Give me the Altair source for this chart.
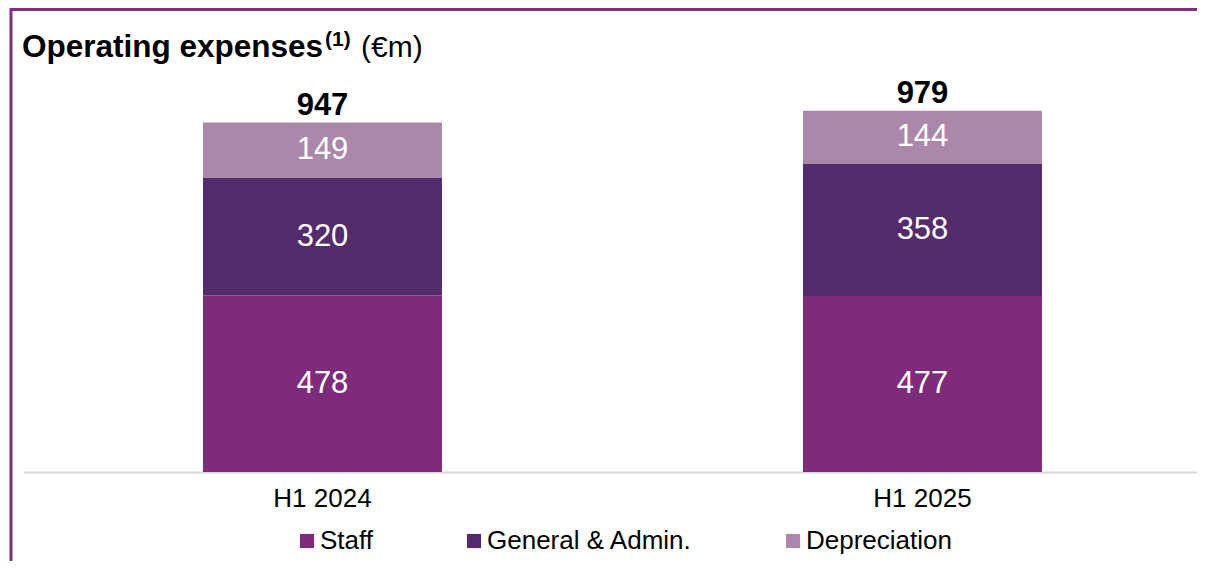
import altair as alt
import pandas as pd

# ---- data ----
periods = ["H1 2024", "H1 2025"]
categories = ["Staff", "General & Admin.", "Depreciation"]
staff = [478, 477]
gen_admin = [320, 358]
depreciation = [149, 144]
colors = ["#7F2B7B", "#542C6C", "#AB88AA"]

title_main = "Operating expenses"
title_sup = "(1)"
title_unit = "(€m)"

rows = []
for i, p in enumerate(periods):
    for j, (c, vals) in enumerate(zip(categories, [staff, gen_admin, depreciation])):
        rows.append({"period": p, "category": c, "value": vals[i], "order": j})
df = pd.DataFrame(rows)

FONT = "Liberation Sans"
FRAME = "#80307D"

x_enc = alt.X(
    "period:N", sort=periods, title=None,
    scale=alt.Scale(paddingInner=0.6017, paddingOuter=0.2792, align=0.5373),
    axis=alt.Axis(labelAngle=0, labelFont=FONT, labelFontSize=26, labelColor="#000000",
                  ticks=False, domainColor="#D9D9D9", domainWidth=2, labelPadding=13,
                  grid=False),
)
y_scale = alt.Scale(domain=[0, 1000])

stacked = alt.Chart(df).transform_stack(
    stack="value", groupby=["period"],
    sort=[alt.SortField("order", order="ascending")], as_=["v0", "v1"],
).transform_calculate(mid="(datum.v0 + datum.v1) / 2")

bars = stacked.mark_bar(strokeWidth=0).encode(
    x=x_enc,
    y=alt.Y("v0:Q", scale=y_scale, axis=None),
    y2="v1:Q",
    color=alt.Color(
        "category:N",
        scale=alt.Scale(domain=categories, range=colors),
        legend=alt.Legend(
            title=None, orient="none", direction="horizontal",
            legendX=271, legendY=425, padding=0,
            symbolType="square", symbolSize=200, symbolStrokeWidth=0, symbolOpacity=1,
            labelFont=FONT, labelFontSize=26, labelColor="#000000",
            labelOffset=0, columnPadding=87, labelLimit=400,
        ),
    ),
)

seg_labels = stacked.mark_text(
    color="white", font=FONT, fontSize=31, baseline="middle", align="center"
).encode(
    x=alt.X("period:N", sort=periods),
    y=alt.Y("mid:Q", scale=y_scale),
    text=alt.Text("value:Q"),
)

totals = alt.Chart(df).transform_aggregate(
    total="sum(value)", groupby=["period"]
).mark_text(
    color="black", font=FONT, fontSize=31, fontWeight="bold",
    baseline="alphabetic", align="center", dy=-8,
).encode(
    x=alt.X("period:N", sort=periods),
    y=alt.Y("total:Q", scale=y_scale),
    text=alt.Text("total:Q"),
)

one = pd.DataFrame({"k": [0]})
t1 = alt.Chart(one).mark_text(
    text=title_main, font=FONT, fontSize=31.5, fontWeight="bold", color="black",
    align="left", baseline="alphabetic",
).encode(x=alt.value(-1), y=alt.value(-46))
t2 = alt.Chart(one).mark_text(
    text=title_sup, font=FONT, fontSize=21, fontWeight="bold", color="black",
    align="left", baseline="alphabetic",
).encode(x=alt.value(302), y=alt.value(-57))
t3 = alt.Chart(one).mark_text(
    text=title_unit, font=FONT, fontSize=30, color="black",
    align="left", baseline="alphabetic",
).encode(x=alt.value(338), y=alt.value(-46))

frame_top = alt.Chart(one).mark_rule(color=FRAME, strokeWidth=3).encode(
    x=alt.value(-13), x2=alt.value(1174), y=alt.value(-93.5), y2=alt.value(-93.5)
)
frame_left = alt.Chart(one).mark_rule(color=FRAME, strokeWidth=3).encode(
    x=alt.value(-12), x2=alt.value(-12), y=alt.value(-95), y2=alt.value(460)
)

chart = alt.layer(
    frame_top, frame_left, bars, seg_labels, totals, t1, t2, t3
).properties(
    width=1174, height=369,
    autosize=alt.AutoSizeParams(type="none"),
    padding={"left": 15, "top": 95, "right": 0, "bottom": 89},
    background="white",
).configure_view(strokeWidth=0, stroke=None)

chart.save("out.html", embed_options={"renderer": "svg", "actions": False})
